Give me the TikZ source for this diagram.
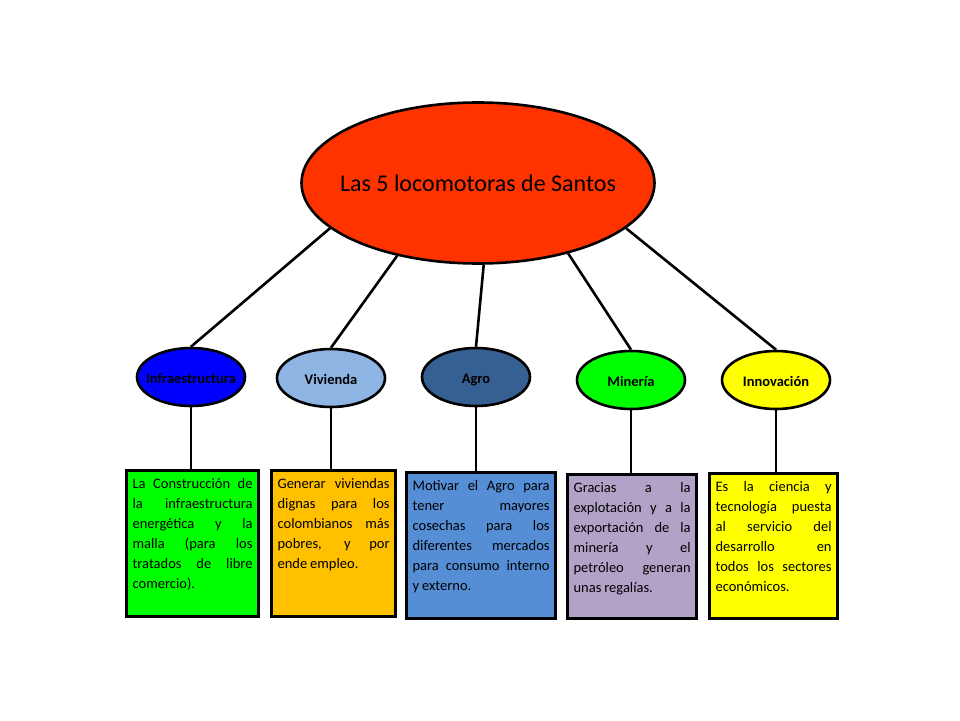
\documentclass[tikz,border=0pt]{standalone}
\usepackage{fontspec}
\setmainfont{Carlito}
\usepackage{xcolor}
\usetikzlibrary{shapes.geometric}

\definecolor{locoRed}{RGB}{255,51,0}
\definecolor{infraBlue}{RGB}{0,0,255}
\definecolor{vivBlue}{RGB}{141,180,226}
\definecolor{agroBlue}{RGB}{55,96,146}
\definecolor{minGreen}{RGB}{0,255,0}
\definecolor{innYellow}{RGB}{255,255,0}
\definecolor{boxGreen}{RGB}{0,255,0}
\definecolor{boxOrange}{RGB}{255,192,0}
\definecolor{boxBlue}{RGB}{85,142,213}
\definecolor{boxPurple}{RGB}{179,162,199}
\definecolor{boxYellow}{RGB}{255,255,0}

% text that does not widen the ellipse
\newcommand{\ctr}[1]{\makebox[0pt]{#1}}
% font of the description boxes
\newcommand{\descfont}{\fontsize{14.5pt}{20pt}\selectfont
  \spaceskip=0.2em plus 2em minus 0.05em\relax
  \hyphenpenalty=10000\relax}

\begin{document}
\begin{tikzpicture}[
  x=1pt, y=-1pt,
  main/.style={ellipse, draw=black, line width=2.6pt, fill=locoRed,
               minimum width=353pt, minimum height=161pt, inner sep=0pt,
               font=\fontsize{24pt}{28pt}\selectfont},
  loco/.style={ellipse, draw=black, line width=2.6pt,
               minimum width=108pt, minimum height=58pt, inner sep=0pt,
               text height=12pt, text depth=0pt,
               font=\bfseries\fontsize{14.5pt}{16pt}\selectfont},
  desc/.style={rectangle, draw=black, line width=3.2pt, anchor=north west,
               align=justify, inner xsep=6pt, inner ysep=8pt,
               text height=10pt, text depth=120pt, font=\descfont},
  link/.style={draw=black, line width=2.6pt},
]
\useasboundingbox (0,0) rectangle (960,720);

% centre
\node[main] (loco) at (478,183) {\ctr{Las 5 locomotoras de Santos}};

% the five locomotives
\node[loco, fill=infraBlue]  (infra) at (191,377) {\ctr{Infraestructura}};
\node[loco, fill=vivBlue]    (viv)   at (331,378) {\ctr{Vivienda}};
\node[loco, fill=agroBlue]   (agro)  at (476,377) {\ctr{Agro}};
\node[loco, fill=minGreen]   (min)   at (631,380) {\ctr{Minería}};
\node[loco, fill=innYellow]  (innov) at (776,380) {\ctr{Innovación}};

% descriptions
\node[desc, fill=boxGreen, text width=120pt] (b1) at (125,469)
  {La Construcción de\linebreak la infraestructura\linebreak energética y la\linebreak
   malla (para los\linebreak tratados de libre\linebreak comercio).};
\node[desc, fill=boxOrange, text width=112pt] (b2) at (270,469)
  {Generar viviendas\linebreak dignas para los\linebreak colombianos más\linebreak
   pobres, y por\linebreak ende empleo.};
\node[desc, fill=boxBlue, text width=137pt] (b3) at (405,471)
  {Motivar el Agro para\linebreak tener mayores\linebreak cosechas para los\linebreak
   diferentes mercados\linebreak para consumo interno\linebreak y externo.};
\node[desc, fill=boxPurple, text width=117pt, text depth=118pt] (b4) at (566,473)
  {Gracias a la\linebreak explotación y a la\linebreak exportación de la\linebreak
   minería y el\linebreak petróleo generan\linebreak unas regalías.};
\node[desc, fill=boxYellow, text width=116pt, text depth=119pt] (b5) at (708,472)
  {Es la ciencia y\linebreak tecnología puesta\linebreak al servicio del\linebreak
   desarrollo en\linebreak todos los sectores\linebreak económicos.};

% connectors
\draw[link] (loco.197) -- (infra.north);
\draw[link] (loco.222) -- (viv.north);
\draw[link] (loco.274) -- (agro.north);
\draw[link] (loco.322) -- (min.north);
\draw[link] (loco.343) -- (innov.north);

\draw[link] (infra.south) -- (infra.south |- b1.north);
\draw[link] (viv.south)   -- (viv.south |- b2.north);
\draw[link] (agro.south)  -- (agro.south |- b3.north);
\draw[link] (min.south)   -- (min.south |- b4.north);
\draw[link] (innov.south) -- (innov.south |- b5.north);

\end{tikzpicture}
\end{document}
